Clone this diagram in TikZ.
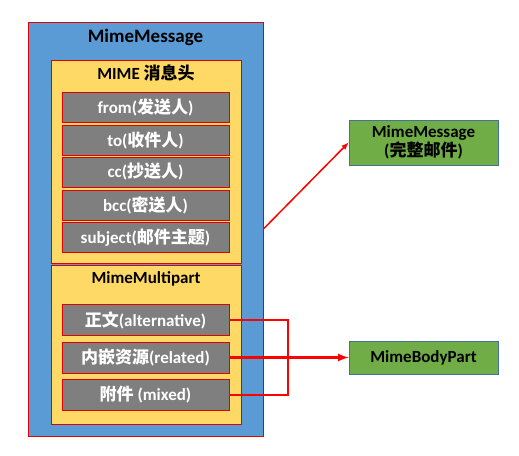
\documentclass[tikz,border=0pt]{standalone}
\usepackage{fontspec}
\setmainfont{Carlito}
\newfontfamily\cjk{Noto Sans CJK SC}
\usetikzlibrary{positioning}
\definecolor{boxblue}{HTML}{5B9BD5}
\definecolor{boxyellow}{HTML}{FFD966}
\definecolor{boxgray}{HTML}{7F7F7F}
\definecolor{boxgreen}{HTML}{70AD47}
\definecolor{greenedge}{HTML}{41719C}
\definecolor{edgered}{HTML}{E00000}
\newcommand{\zh}[1]{{\cjk\bfseries #1}}

\begin{document}
\begin{tikzpicture}[x=1pt,y=-1pt,font=\bfseries\fontsize{17}{19}\selectfont,
  frame/.style={draw=edgered,line width=0.8pt,inner sep=0pt},
  field/.style={frame,fill=boxgray,text=white,minimum width=167pt},
  target/.style={draw=greenedge,line width=0.8pt,fill=boxgreen,minimum width=149pt,inner sep=0pt,align=center},
  link/.style={draw=red,line width=2pt}]
\useasboundingbox (0,0) rectangle (519,455);
\node[frame,fill=boxblue,minimum width=235pt,minimum height=414pt] (msg) at (145.5,229) {};
\node[frame,fill=boxyellow,minimum width=190pt,minimum height=203pt] (head) at (146,161.5) {};
\node[frame,fill=boxyellow,minimum width=190pt,minimum height=159pt] (multi) at (146,344.5) {};
\node[font=\bfseries\fontsize{19}{21}\selectfont] (msgtitle) at (145.5,37) {MimeMessage};
\node (headtitle) at (146,73) {MIME \zh{消息头}};
\node (multititle) at (146,279) {MimeMultipart};
% header fields
\node[field,minimum height=30pt] (from) at (145.5,107) {from(\zh{发送人})};
\node[field,minimum height=30pt] (to) at (145.5,140.5) {to(\zh{收件人})};
\node[field,minimum height=30pt] (cc) at (145.5,172) {cc(\zh{抄送人})};
\node[field,minimum height=30pt] (bcc) at (145.5,205) {bcc(\zh{密送人})};
\node[field,minimum height=30pt] (subject) at (145.5,237.5) {subject(\zh{邮件主题})};
% body parts
\node[field,minimum height=31pt] (alt) at (145.5,320) {\zh{正文}(alternative)};
\node[field,minimum height=31pt] (rel) at (145.5,357.5) {\zh{内嵌资源}(related)};
\node[field,minimum height=31pt] (mixed) at (145.5,395) {\zh{附件} (mixed)};
% classes
\node[target,minimum height=45pt] (full) at (423.5,142.5) {MimeMessage\\(\zh{完整邮件})};
\node[target,minimum height=33pt] (part) at (423.5,357.5) {MimeBodyPart};
\coordinate (joint) at (288,357.5);
\draw[link,line width=1.5pt,-latex] (msg.east) -- (full.west);
\draw[link] (alt.east) -| (joint);
\draw[link] (mixed.east) -| (joint);
\draw[link,line width=2.6pt,-latex] (rel.east) -- (part.west);
\end{tikzpicture}
\end{document}
